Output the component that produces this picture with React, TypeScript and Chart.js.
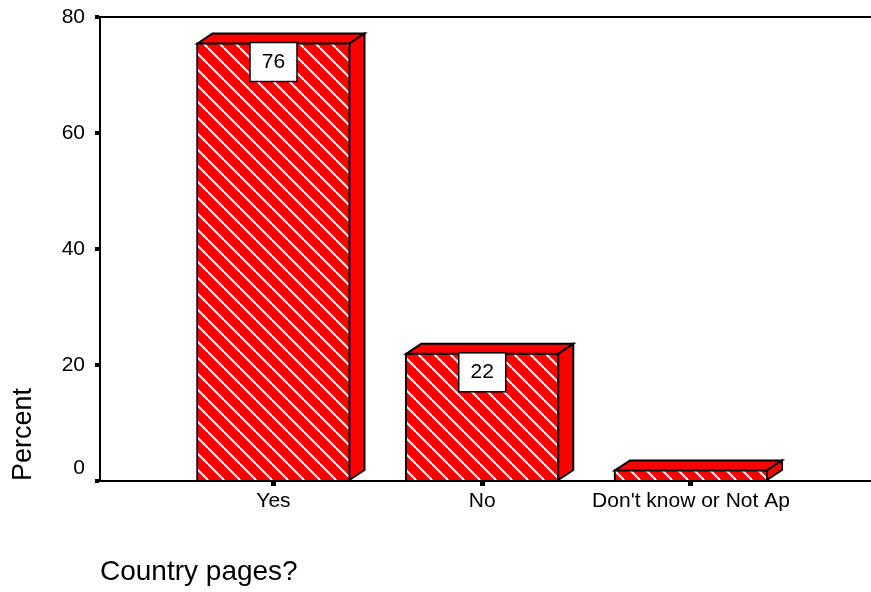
import React, { useEffect, useRef } from 'react';
import { Chart, registerables } from 'chart.js';

Chart.register(...registerables);

// ---- data ----
const categories = ['Yes', 'No', "Don't know or Not Ap"];
const percents = [75.6, 22.1, 2.0];
const yTickValues = [0, 20, 40, 60, 80];
const yTitle = 'Percent';
const xTitle = 'Country pages?';

const FONT = '"Liberation Sans", Arial, Helvetica, sans-serif';
const RED = '#ff0000';

function makeHatch(): CanvasPattern | string {
  const s = 16;
  const c = document.createElement('canvas');
  c.width = s;
  c.height = s;
  const g = c.getContext('2d');
  if (!g) return RED;
  g.fillStyle = RED;
  g.fillRect(0, 0, s, s);
  g.strokeStyle = '#ffffff';
  g.lineWidth = 2;
  for (const k of [-1, 0, 1]) {
    g.beginPath();
    g.moveTo(0, k * s);
    g.lineTo(s, s + k * s);
    g.stroke();
  }
  return g.createPattern(c, 'repeat') || RED;
}

const bar3d = {
  id: 'bar3d',
  afterDatasetsDraw(chart: any) {
    const ctx = chart.ctx;
    const meta = chart.getDatasetMeta(0);
    const dx = 15;
    const dy = 10;
    ctx.save();
    meta.data.forEach((el: any, i: number) => {
      const { x, y, base, width } = el.getProps(['x', 'y', 'base', 'width'], true);
      const L = x - width / 2 + 1;
      const R = x + width / 2 - 1;
      const T = y + 1;
      const B = base;
      ctx.fillStyle = RED;
      ctx.strokeStyle = '#000';
      ctx.lineWidth = 2;
      ctx.lineJoin = 'miter';
      // top face
      ctx.beginPath();
      ctx.moveTo(L, T);
      ctx.lineTo(L + dx, T - dy);
      ctx.lineTo(R + dx, T - dy);
      ctx.lineTo(R, T);
      ctx.closePath();
      ctx.fill();
      ctx.stroke();
      // right face
      ctx.beginPath();
      ctx.moveTo(R, T);
      ctx.lineTo(R + dx, T - dy);
      ctx.lineTo(R + dx, B - dy);
      ctx.lineTo(R, B);
      ctx.closePath();
      ctx.fill();
      ctx.stroke();

      // value label box
      const bw = 47;
      const bh = 39;
      if (B - y > bh + 4) {
        const label = String(Math.round(percents[i]));
        const bx = x - bw / 2;
        const by = y;
        ctx.fillStyle = '#fff';
        ctx.fillRect(bx, by, bw, bh);
        ctx.strokeStyle = '#000';
        ctx.lineWidth = 1.5;
        ctx.strokeRect(bx, by, bw, bh);
        ctx.fillStyle = '#000';
        ctx.font = `21px ${FONT}`;
        ctx.textAlign = 'center';
        ctx.textBaseline = 'middle';
        ctx.fillText(label, x, by + bh / 2);
      }
    });
    ctx.restore();
  },
};

export default function App() {
  const ref = useRef<HTMLCanvasElement | null>(null);

  useEffect(() => {
    const canvas = ref.current;
    if (!canvas) return;
    const hatch = makeHatch();
    const chart = new Chart(canvas, {
      type: 'bar',
      data: {
        datasets: [
          {
            data: percents.map((v, i) => ({ x: i, y: v })),
            backgroundColor: hatch as any,
            borderColor: '#000',
            borderWidth: 2,
            barThickness: 154,
          },
        ],
      },
      options: {
        animation: false,
        responsive: false,
        devicePixelRatio: 1,
        layout: { padding: { top: 17, left: 0, right: 0, bottom: 0 } },
        plugins: {
          legend: { display: false },
          tooltip: { enabled: false },
        },
        events: [],
        scales: {
          x: {
            type: 'linear',
            min: -0.8311,
            max: 2.8623,
            offset: false,
            afterBuildTicks: (s: any) => {
              s.ticks = categories.map((_, i) => ({ value: i }));
            },
            afterFit: (s: any) => {
              s.height = 111;
              s.paddingLeft = 0;
              s.paddingRight = 0;
            },
            ticks: {
              autoSkip: false,
              maxRotation: 0,
              minRotation: 0,
              color: '#000',
              padding: 3,
              font: { family: FONT, size: 21 },
              callback: (v: any) => categories[v as number] ?? '',
            },
            grid: {
              offset: false,
              drawOnChartArea: false,
              drawTicks: true,
              tickLength: 5,
              tickWidth: 5,
              tickColor: '#000',
            },
            border: { display: true, color: '#000', width: 2 },
            title: {
              display: true,
              text: xTitle,
              align: 'start',
              color: '#000',
              font: { family: FONT, size: 28 },
              padding: { top: 0, bottom: 3 },
            },
          },
          y: {
            min: 0,
            max: 80,
            afterBuildTicks: (s: any) => {
              s.ticks = yTickValues.map((v) => ({ value: v }));
            },
            afterFit: (s: any) => {
              s.width = 100;
              s.paddingTop = 0;
              s.paddingBottom = 0;
            },
            ticks: {
              color: '#000',
              padding: 10,
              font: { family: FONT, size: 21 },
              callback: (v: any) => (v === 0 ? ['0', ''] : String(v)),
            },
            grid: {
              drawOnChartArea: true,
              color: (c: any) => (c.tick && c.tick.value === 80 ? '#000' : 'rgba(0,0,0,0)'),
              lineWidth: 2,
              drawTicks: true,
              tickLength: 5,
              tickWidth: 4,
              tickColor: '#000',
            },
            border: { display: true, color: '#000', width: 2 },
            title: {
              display: true,
              text: yTitle,
              align: 'start',
              color: '#000',
              font: { family: FONT, size: 27 },
              padding: { top: 7, bottom: 0 },
            },
          },
        },
      } as any,
      plugins: [bar3d],
    });
    return () => chart.destroy();
  }, []);

  return (
    <div style={{ position: 'absolute', left: 0, top: 0, width: 871, height: 592, background: '#fff' }}>
      <canvas ref={ref} width={871} height={592} style={{ width: 871, height: 592, display: 'block' }} />
    </div>
  );
}
